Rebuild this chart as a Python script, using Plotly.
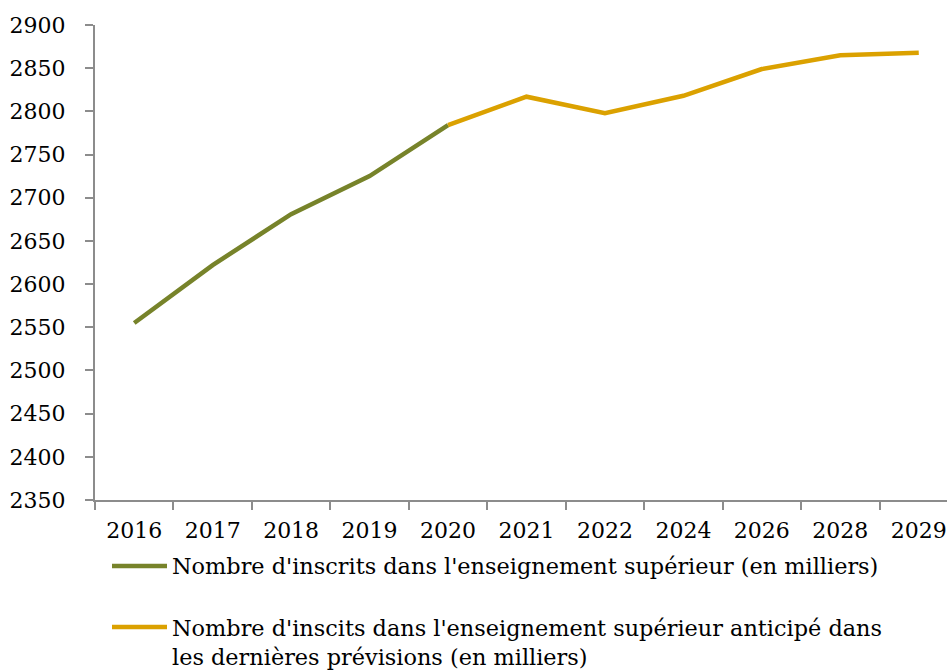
import plotly.graph_objects as go

years = ["2016", "2017", "2018", "2019", "2020", "2021", "2022", "2024", "2026", "2028", "2029"]
inscrits_years = ["2016", "2017", "2018", "2019", "2020"]
inscrits = [2555, 2622, 2681, 2725, 2784]
prevision_years = ["2020", "2021", "2022", "2024", "2026", "2028", "2029"]
prevision = [2784, 2817, 2798, 2818, 2849, 2865, 2868]
name_inscrits = "Nombre d'inscrits dans l'enseignement supérieur (en milliers)"
name_prevision = "Nombre d'inscits dans l'enseignement supérieur anticipé dans<br>les dernières prévisions (en milliers)"
y_ticks = list(range(2350, 2901, 50))

green = "#77832A"
orange = "#DBA100"
axis_col = "#8C8C8C"
FONT = "DejaVu Serif"

fig = go.Figure()
fig.add_trace(go.Scatter(x=inscrits_years, y=inscrits, mode="lines",
                         line=dict(color=green, width=4.5), showlegend=False,
                         name=name_inscrits))
fig.add_trace(go.Scatter(x=prevision_years, y=prevision, mode="lines",
                         line=dict(color=orange, width=4.5), showlegend=False,
                         name=name_prevision))

W, H = 947, 671
L, R, T, B = 95, 0, 25, 171
pw, ph = W - L - R, H - T - B

def px(x):
    return (x - L) / pw

def py(y):
    return (H - B - y) / ph

# manual legend
for col, yy in [(green, 566), (orange, 627)]:
    fig.add_shape(type="line", xref="paper", yref="paper",
                  x0=px(112), x1=px(167), y0=py(yy), y1=py(yy),
                  line=dict(color=col, width=4.5))
fig.add_annotation(xref="paper", yref="paper", x=px(170), y=py(566),
                   xanchor="left", yanchor="middle", text=name_inscrits,
                   showarrow=False, align="left",
                   font=dict(family=FONT, size=22.4, color="#000"))
fig.add_annotation(xref="paper", yref="paper", x=px(170), y=py(613),
                   xanchor="left", yanchor="top", text=name_prevision,
                   showarrow=False, align="left",
                   font=dict(family=FONT, size=22.4, color="#000"))

fig.update_layout(
    width=W, height=H,
    margin=dict(l=L, r=R, t=T, b=B, pad=0, autoexpand=False),
    paper_bgcolor="white", plot_bgcolor="white",
    font=dict(family=FONT, size=22, color="#000"),
)
fig.update_xaxes(type="category", categoryorder="array", categoryarray=years,
                 range=[-0.5, 10.36], showgrid=False, zeroline=False,
                 showline=True, linecolor=axis_col, linewidth=2,
                 ticks="outside", tickson="boundaries", ticklen=8,
                 tickcolor=axis_col, tickwidth=2, ticklabelstandoff=10,
                 automargin=False)
fig.update_yaxes(range=[2350, 2900], tickvals=y_ticks, showgrid=False,
                 zeroline=False, showline=True, linecolor=axis_col,
                 linewidth=2, ticks="outside", ticklen=8, tickcolor=axis_col,
                 tickwidth=2, ticklabelstandoff=15, automargin=False)

fig.write_html(
    "out.html",
    config={"displayModeBar": False},
    post_script="document.body.style.margin='0';document.body.style.overflow='hidden';",
)
